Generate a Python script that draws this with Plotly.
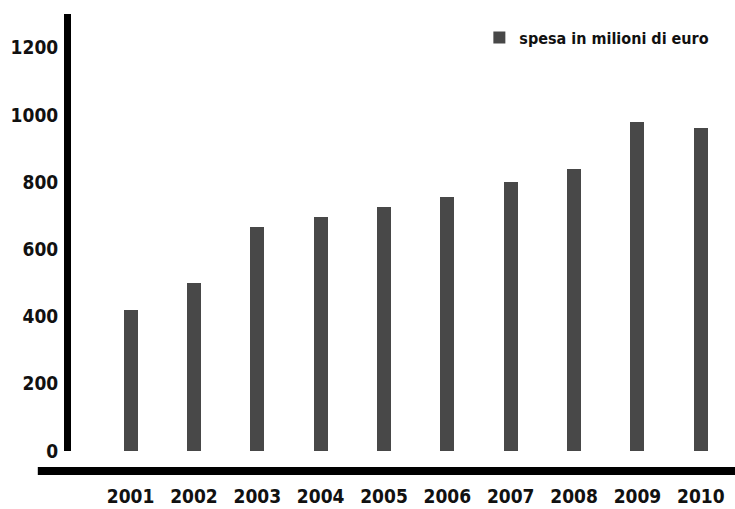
import plotly.graph_objects as go

years = [2001, 2002, 2003, 2004, 2005, 2006, 2007, 2008, 2009, 2010]
spesa = [420, 500, 665, 695, 725, 755, 800, 840, 980, 960]
y_ticks = [0, 200, 400, 600, 800, 1000, 1200]
series_name = "spesa in milioni di euro"

FONT = "DejaVu Sans Condensed, Liberation Sans Narrow, Arial Narrow, sans-serif"

fig = go.Figure()
fig.add_trace(go.Bar(
    x=years, y=spesa, name=series_name,
    marker=dict(color="#484848", line=dict(width=0)),
    width=0.22,
))

fig.update_layout(
    width=735, height=509,
    margin=dict(l=71, r=0, t=14, b=58),
    paper_bgcolor="white", plot_bgcolor="white",
    font=dict(family=FONT, color="#111111", size=19),
    showlegend=True,
    legend=dict(x=0.615, y=0.985, xanchor="left", yanchor="top",
                font=dict(family=FONT, size=16, color="#111111", weight="bold"),
                bgcolor="rgba(0,0,0,0)", itemwidth=30),
    bargap=0,
)
fig.update_xaxes(
    range=[2000.06, 2010.54], tickmode="array", tickvals=years,
    ticktext=[str(y) for y in years], showgrid=False, zeroline=False,
    showline=False, ticks="", ticklabelstandoff=32,
    tickfont=dict(family=FONT, size=19, weight="bold", color="#111111"),
)
fig.update_yaxes(
    range=[0, 1300], tickmode="array", tickvals=y_ticks,
    showgrid=False, zeroline=False, showline=True, linewidth=7, linecolor="black",
    ticks="", ticklabelstandoff=2,
    tickfont=dict(family=FONT, size=19, weight="bold", color="#111111"),
)
# bottom baseline bar
fig.add_shape(type="line", xref="paper", yref="paper",
              x0=-0.05, x1=1.0, y0=-0.046, y1=-0.046,
              line=dict(color="black", width=8))

fig.write_html("out.html")
